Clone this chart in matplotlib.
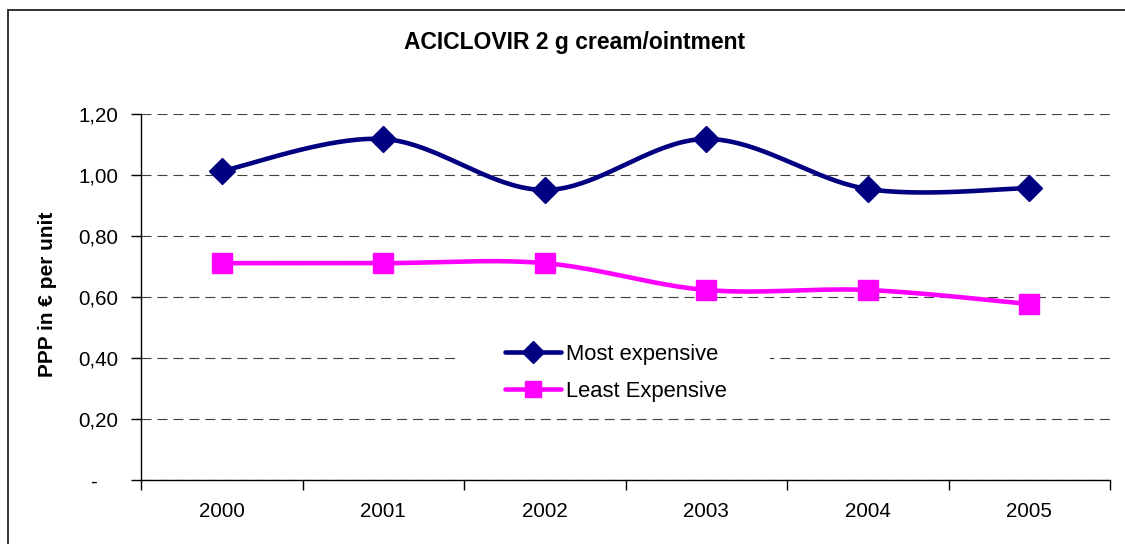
import numpy as np
import matplotlib
matplotlib.use("Agg")
import matplotlib.pyplot as plt
from matplotlib.patches import Rectangle
from matplotlib.ticker import FixedLocator, FuncFormatter, NullFormatter
from matplotlib.transforms import ScaledTranslation

years = ["2000", "2001", "2002", "2003", "2004", "2005"]
most_expensive = [1.013, 1.118, 0.951, 1.118, 0.954, 0.957]
least_expensive = [0.711, 0.711, 0.711, 0.623, 0.623, 0.577]

plt.rcParams["font.family"] = ["Liberation Sans", "DejaVu Sans"]
plt.rcParams["lines.scale_dashes"] = False


def smooth(xs, ys, n=40):
    # Catmull-Rom style bezier segments, like spreadsheet "smoothed line"
    pts = np.column_stack([xs, ys]).astype(float)
    padded = np.vstack([pts[0], pts, pts[-1]])
    out = [pts[0]]
    t = np.linspace(0, 1, n + 1)[1:, None]
    for i in range(len(pts) - 1):
        p0, p1, p2, p3 = padded[i], padded[i + 1], padded[i + 2], padded[i + 3]
        c1 = p1 + (p2 - p0) / 6.0
        c2 = p2 - (p3 - p1) / 6.0
        seg = ((1 - t) ** 3) * p1 + 3 * ((1 - t) ** 2) * t * c1 \
            + 3 * (1 - t) * t ** 2 * c2 + t ** 3 * p2
        out.extend(seg)
    out = np.array(out)
    return out[:, 0], out[:, 1], list(range(0, len(out), n))


fig = plt.figure(figsize=(11.25, 5.44), dpi=100)
ax = fig.add_axes([141 / 1125, 1 - 480 / 544, 969 / 1125, 366 / 544])

x = np.arange(len(years))

sx, sy, knots = smooth(x, most_expensive)
ax.plot(sx, sy, color="#000080", lw=3.3, marker="D", ms=13.5,
        markevery=knots, label="Most expensive", zorder=4,
        solid_capstyle="round")
sx, sy, knots = smooth(x, least_expensive)
ax.plot(sx, sy, color="#FF00FF", lw=3.3, marker="s", ms=14,
        markevery=knots, label="Least Expensive", zorder=3,
        solid_capstyle="round")

ax.set_xlim(-0.5, len(years) - 0.5)
ax.set_ylim(0, 1.2)

# y axis: comma decimals, dash for zero
ax.set_yticks(np.arange(0, 1.21, 0.2))
ax.yaxis.set_major_formatter(FuncFormatter(
    lambda v, p: "-" if abs(v) < 1e-9 else f"{v:.2f}".replace(".", ",")))
ax.tick_params(axis="y", length=7, width=1, pad=9.5, labelsize=14.8,
               direction="out")
ax.yaxis.grid(True, color="#404040", lw=0.8, linestyle=(0, (7.2, 4.3)))
ax.set_axisbelow(True)

# x axis: ticks between categories, labels centred
ax.xaxis.set_major_locator(FixedLocator(np.arange(-0.5, len(years), 1.0)))
ax.xaxis.set_major_formatter(NullFormatter())
ax.xaxis.set_minor_locator(FixedLocator(x))
ax.set_xticklabels(years, minor=True)
ax.tick_params(axis="x", which="major", length=7, width=1, direction="out")
ax.tick_params(axis="x", which="minor", length=0, pad=16, labelsize=14.8)

for side in ("top", "right"):
    ax.spines[side].set_visible(False)
for side in ("left", "bottom"):
    ax.spines[side].set_linewidth(1.0)
    ax.spines[side].set_color("black")

fig.canvas.draw()
for lab in ax.get_yticklabels():
    if lab.get_text() == "-":
        lab.set_transform(lab.get_transform()
                          + ScaledTranslation(-0.21, 0, fig.dpi_scale_trans))

ax.set_ylabel("PPP in € per unit", fontsize=15, fontweight="bold")
ax.yaxis.set_label_coords(57 / 1125, 1 - 294 / 544,
                          transform=fig.transFigure)

fig.text(575 / 1125, 1 - 43 / 544, "ACICLOVIR 2 g cream/ointment",
         ha="center", va="center", fontsize=16.5, fontweight="bold")

# white backing behind the legend interrupts the grid
ax.add_patch(Rectangle((0.324, 0.205), 0.325, 0.191, transform=ax.transAxes,
                       facecolor="white", edgecolor="none", zorder=2))
ax.legend(loc="center left", bbox_to_anchor=(0.376, 0.293),
          frameon=False, fontsize=15.8, handlelength=2.55,
          handletextpad=0.2, labelspacing=0.72, borderpad=0,
          borderaxespad=0, markerscale=0.8)

# chart border
fig.patches.append(Rectangle((8 / 1125, -0.1), 1.2, 1 - 9.5 / 544 + 0.1,
                             transform=fig.transFigure, fill=False,
                             edgecolor="#222222", lw=1.3))

fig.savefig("out.png", dpi=100)
